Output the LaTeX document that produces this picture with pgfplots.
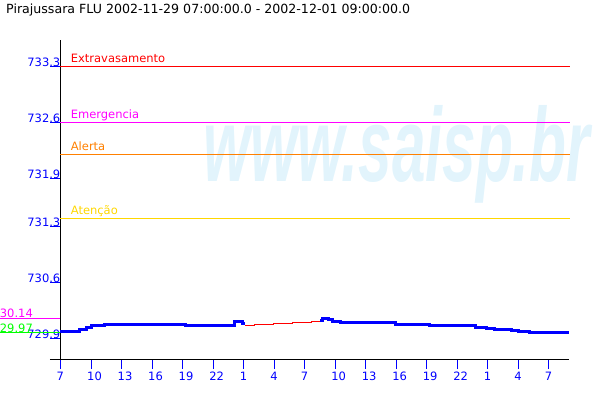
\documentclass[border=0pt]{standalone}
\usepackage{pgfplots}
\pgfplotsset{compat=1.18}
\usepackage{fontspec}
\setmainfont{DejaVu Sans}
\newfontfamily\wmfont{Liberation Sans}
\definecolor{tickblue}{RGB}{0,0,255}
\definecolor{wm}{RGB}{226,244,252}
\definecolor{alertorange}{RGB}{255,128,0}
\definecolor{atyellow}{RGB}{255,215,0}
\definecolor{emmag}{RGB}{255,0,255}
\definecolor{mingreen}{RGB}{0,255,0}
\begin{document}
\begin{tikzpicture}[x=1pt,y=1pt]
\useasboundingbox (-60.5,-41) rectangle (539.5,359);
\node[anchor=base west, inner sep=0pt, text=wm, font=\wmfont\bfseries\itshape\fontsize{105}{105}\selectfont, xscale=0.575] at (142.5,178) {www.saisp.br};
\begin{axis}[
  at={(0,0)}, anchor=south west,
  scale only axis, width=508.5pt, height=319pt,
  xmin=0, xmax=50, ymin=729.6375, ymax=733.625,
  axis x line*=bottom, axis y line*=left,
  axis line style={black, line width=1pt, -},
  x axis line style={shorten <=-10.5pt},
  xtick={0,3,...,48},
  xticklabels={7,10,13,16,19,22,1,4,7,10,13,16,19,22,1,4,7},
  ytick={729.9,730.6,731.3,731.9,732.6,733.3},
  yticklabels={729.9,730.6,731.3,731.9,732.6,733.3},
  tick align=outside, major tick length=10pt,
  tick style={tickblue, line width=1pt},
  ticklabel style={text=tickblue, font=\fontsize{11.5}{12}\selectfont, inner sep=0pt},
  yticklabel style={anchor=base east, xshift=10pt},
  xticklabel style={anchor=base west, xshift=-4pt, yshift=-11pt},
  clip=false,
]
\addplot[red, line width=1pt] coordinates {(0,733.3) (50.1,733.3)};
\addplot[emmag, line width=1pt] coordinates {(0,732.6) (50.1,732.6)};
\addplot[alertorange, line width=1pt] coordinates {(0,732.2) (50.1,732.2)};
\addplot[atyellow, line width=1pt] coordinates {(0,731.4) (50.1,731.4)};
\addplot[emmag, line width=1pt] coordinates {(-5.95,730.14) (0,730.14)};
\addplot[mingreen, line width=1pt] coordinates {(-5.95,729.97) (0,729.97)};
% water level
\addplot[tickblue, line width=3pt, const plot] coordinates {
(0,729.979) (1.82,730.0125) (2.58,730.0375) (3.07,730.054) (4.28,730.065)
(12.34,730.054) (17.06,730.104) (17.85,730.079) (18.14,730.079)};
\addplot[red, line width=1pt, const plot] coordinates {
(18.14,730.0625) (19.12,730.071) (20.99,730.079) (22.83,730.1) (24.70,730.1125) (25.52,730.1125)};
\addplot[tickblue, line width=3pt, const plot] coordinates {
(25.52,730.121) (25.78,730.141) (26.37,730.129) (26.79,730.1125) (27.58,730.091)
(32.96,730.066) (36.33,730.0625) (38.03,730.054) (40.76,730.0375) (41.91,730.025)
(42.72,730.0125) (43.12,730.004) (44.37,729.992) (45.08,729.979) (46.07,729.967) (50,729.967)};
\node[anchor=base west, inner sep=0pt, text=red, font=\fontsize{11.5}{12}\selectfont, yshift=4pt] at (axis cs:1.0,733.3) {Extravasamento};
\node[anchor=base west, inner sep=0pt, text=emmag, font=\fontsize{11.5}{12}\selectfont, yshift=4pt] at (axis cs:1.0,732.6) {Emergencia};
\node[anchor=base west, inner sep=0pt, text=alertorange, font=\fontsize{11.5}{12}\selectfont, yshift=4pt] at (axis cs:1.0,732.2) {Alerta};
\node[anchor=base west, inner sep=0pt, text=atyellow, font=\fontsize{11.5}{12}\selectfont, yshift=4pt] at (axis cs:1.0,731.4) {Atenção};
\node[anchor=base east, inner sep=0pt, text=emmag, font=\fontsize{11.5}{12}\selectfont, yshift=1pt] at (axis cs:-2.7,730.14) {730.14};
\node[anchor=base east, inner sep=0pt, text=mingreen, font=\fontsize{11.5}{12}\selectfont] at (axis cs:-2.7,729.97) {729.97};
\end{axis}
\node[anchor=base west, inner sep=0pt, font=\fontsize{12.6}{13}\selectfont] at (-54.5,345.7) {Pirajussara FLU 2002-11-29 07:00:00.0 - 2002-12-01 09:00:00.0};
\end{tikzpicture}
\end{document}
